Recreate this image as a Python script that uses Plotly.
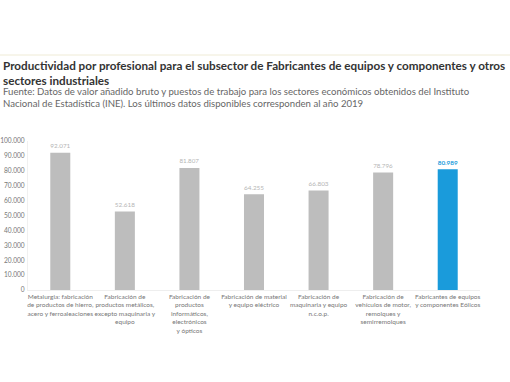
import plotly.graph_objects as go

categories = [
    "Metalurgia: fabricación<br>de productos de hierro,<br>acero y ferroaleaciones",
    "Fabricación de<br>productos metálicos,<br>excepto maquinaria y<br>equipo",
    "Fabricación de<br>productos<br>informáticos,<br>electrónicos<br>y ópticos",
    "Fabricación de material<br>y equipo eléctrico",
    "Fabricación de<br>maquinaria y equipo<br>n.c.o.p.",
    "Fabricación de<br>vehículos de motor,<br>remolques y<br>semirremolques",
    "Fabricantes de equipos<br>y componentes Eólicos",
]
values = [92071, 52618, 81807, 64255, 66803, 78796, 80989]
highlight = [False, False, False, False, False, False, True]
y_ticks = [0, 10000, 20000, 30000, 40000, 50000, 60000, 70000, 80000, 90000, 100000]

GRAY = "#BDBDBD"
BLUE = "#1A9BDB"
bar_colors = [BLUE if h else GRAY for h in highlight]
label_texts = ["<b>%{y:,.0f}</b>" if h else "%{y:,.0f}" for h in highlight]
label_colors = [BLUE if h else "#B5B5B5" for h in highlight]

W, H = 510, 382
L, R, T, B = 28, 30, 141, 92
ph = H - T - B
pw = W - L - R

def py(ypix):
    return (H - B - ypix) / ph

def px(xpix):
    return (xpix - L) / pw

fig = go.Figure(
    go.Bar(
        x=categories,
        y=values,
        marker=dict(color=bar_colors, line=dict(width=0)),
        texttemplate=label_texts,
        textposition="outside",
        textfont=dict(size=7.5, color=label_colors, family="Lato"),
        cliponaxis=False,
        width=0.31,
    )
)

fig.update_layout(
    width=W,
    height=H,
    margin=dict(l=L, r=R, t=T, b=B, autoexpand=False),
    paper_bgcolor="white",
    plot_bgcolor="white",
    separators=",.",
    showlegend=False,
    font=dict(family="Lato", color="#777"),
    xaxis=dict(
        automargin=False,
        showgrid=False,
        showline=True,
        linecolor="#eeeeee",
        linewidth=1,
        ticks="",
        tickfont=dict(size=6.5, color="#777", family="Lato"),
        tickangle=0,
    ),
    yaxis=dict(
        automargin=False,
        range=[0, 100000],
        tickvals=y_ticks,
        tickformat=",.0f",
        showgrid=False,
        zeroline=False,
        showline=True,
        linecolor="#f0f0f0",
        ticks="",
        ticklabelstandoff=1,
        tickfont=dict(size=6.6, color="#777", family="Lato"),
    ),
    shapes=[
        dict(type="line", xref="paper", yref="paper",
             x0=px(0), x1=px(510), y0=py(55), y1=py(55),
             line=dict(color="#efebd6", width=1)),
    ],
    annotations=[
        dict(xref="paper", yref="paper", x=px(1), y=py(56), xanchor="left", yanchor="top",
             align="left", showarrow=False,
             text="<b>Productividad por profesional para el subsector de Fabricantes de equipos y componentes y otros<br>sectores industriales</b>",
             font=dict(size=11.7, color="#333", family="Lato")),
        dict(xref="paper", yref="paper", x=px(1), y=py(84), xanchor="left", yanchor="top",
             align="left", showarrow=False,
             text="Fuente: Datos de valor añadido bruto y puestos de trabajo para los sectores económicos obtenidos del Instituto<br>Nacional de Estadística (INE). Los últimos datos disponibles corresponden al año 2019",
             font=dict(size=9.6, color="#666", family="Lato")),
    ],
)

fig.write_html(
    "out.html",
    config={"displayModeBar": False},
    post_script="document.body.style.margin='0';document.body.style.padding='0';",
)
